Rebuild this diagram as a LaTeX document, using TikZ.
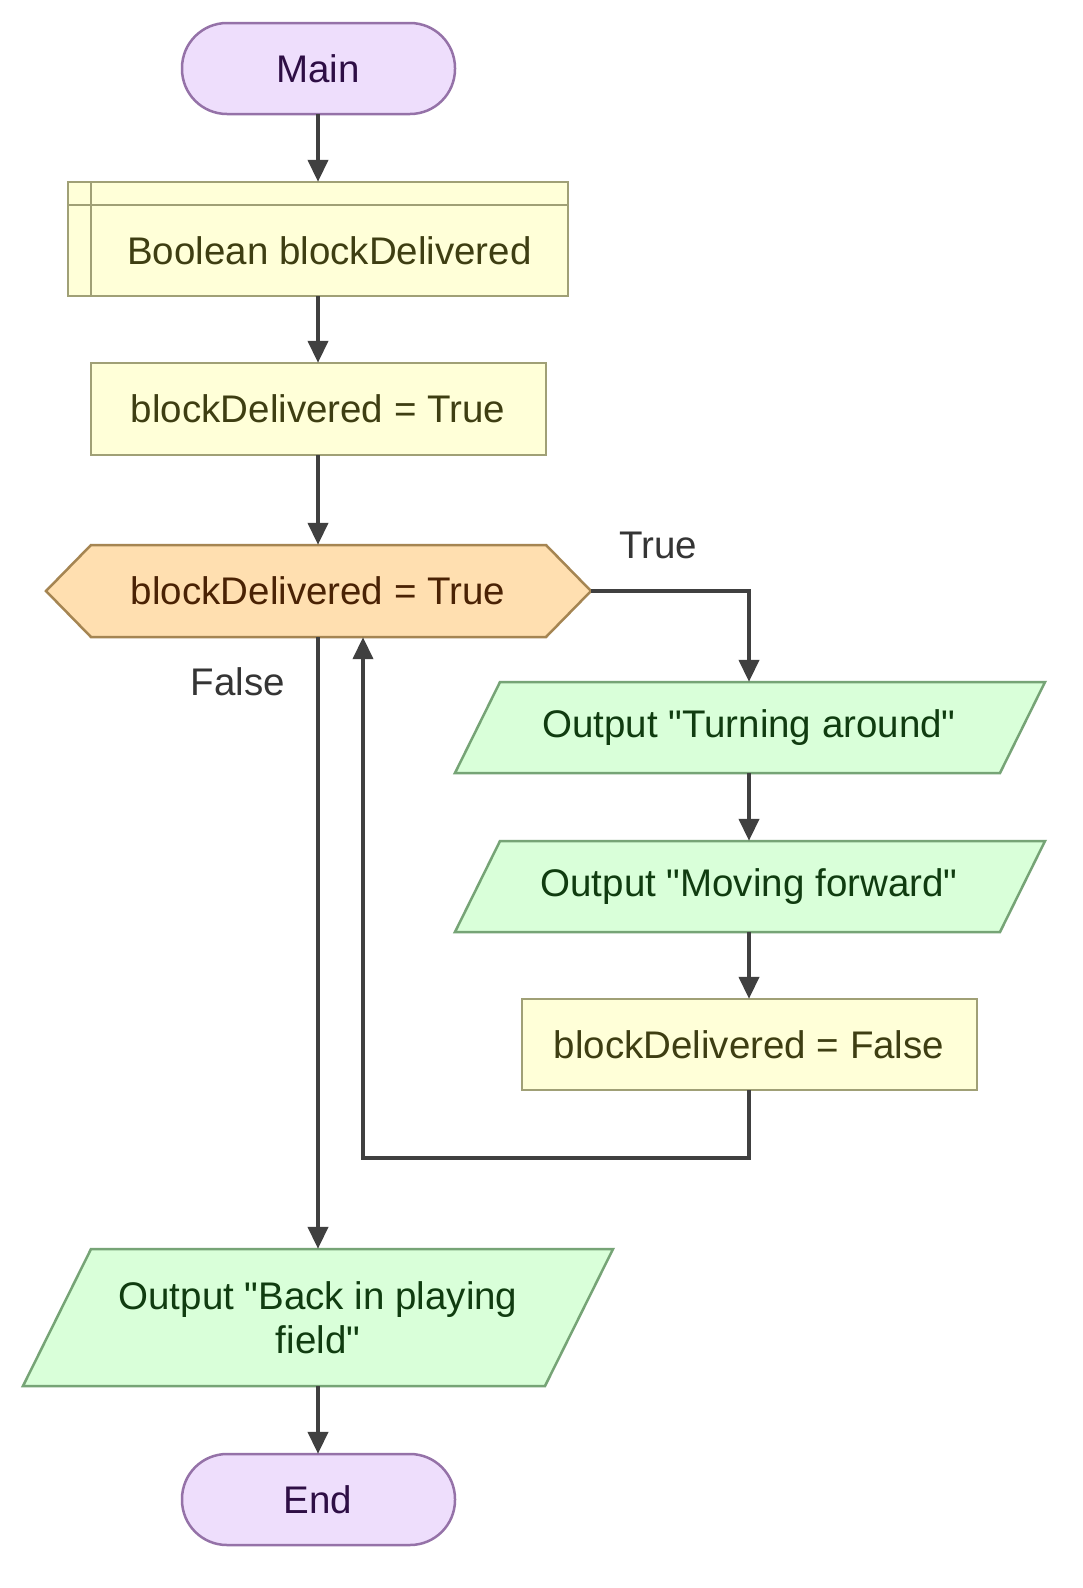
\documentclass[tikz,border=0pt]{standalone}
\usepackage{fontspec}
\setmainfont{Liberation Sans}[Ligatures=TeXOff]
\usetikzlibrary{arrows.meta}
\definecolor{termfill}{HTML}{EEDEFC}
\definecolor{termline}{HTML}{9572A8}
\definecolor{termtext}{HTML}{2E0E45}
\definecolor{procfill}{HTML}{FFFFD8}
\definecolor{procline}{HTML}{A0A076}
\definecolor{proctext}{HTML}{3E3E12}
\definecolor{decfill}{HTML}{FFDFB0}
\definecolor{decline}{HTML}{A58552}
\definecolor{dectext}{HTML}{4A2204}
\definecolor{iofill}{HTML}{D9FFD9}
\definecolor{ioline}{HTML}{76A476}
\definecolor{iotext}{HTML}{103C10}
\definecolor{arrcol}{HTML}{404040}
\definecolor{lblcol}{HTML}{353535}
\begin{document}
\begin{tikzpicture}[x=1pt,y=-1pt,
  txt/.style={font=\fontsize{38.5}{44}\selectfont, inner sep=0pt, align=center},
  termshape/.style={fill=termfill, draw=termline, line width=2.5pt},
  procshape/.style={fill=procfill, draw=procline, line width=2.5pt},
  decshape/.style={fill=decfill, draw=decline, line width=2.5pt},
  ioshape/.style={fill=iofill, draw=ioline, line width=2.5pt},
  arr/.style={draw=arrcol, line width=4pt, -{Triangle[width=20pt,length=22pt]}},
  lbl/.style={txt, text=lblcol}
]
\useasboundingbox (0,0) rectangle (1082,1588);
\fill[white] (0,0) rectangle (1082,1588);

% shapes
\draw[termshape, rounded corners=45pt] (182,23) rectangle (455,114);
\draw[procshape] (68,182) rectangle (568,296);
\draw[procline, line width=2.5pt] (91,182) -- (91,296) (68,205) -- (568,205);
\draw[procshape] (91,363) rectangle (546,455);
\draw[decshape] (46,591) -- (91,545) -- (546,545) -- (591,591) -- (546,637) -- (91,637) -- cycle;
\draw[ioshape] (500,682) -- (1045,682) -- (1000,773) -- (455,773) -- cycle;
\draw[ioshape] (500,841) -- (1045,841) -- (1000,932) -- (455,932) -- cycle;
\draw[procshape] (522,999) rectangle (977,1090);
\draw[ioshape] (91,1249) -- (613,1249) -- (545,1386) -- (23,1386) -- cycle;
\draw[termshape, rounded corners=45pt] (182,1454) rectangle (455,1545);

% nodes
\node[txt, text=termtext, minimum width=273pt, minimum height=91pt] (main) at (318,68.5) {Main};
\node[minimum width=500pt, minimum height=114pt, inner sep=0pt] (decl) at (318,239) {};
\node[txt, text=proctext] (decltxt) at (329.5,250.5) {Boolean blockDelivered};
\node[txt, text=proctext, minimum width=455pt, minimum height=92pt] (init) at (318,409) {blockDelivered = True};
\node[txt, text=dectext, minimum width=545pt, minimum height=92pt] (dec) at (318,591) {blockDelivered = True};
\node[txt, text=iotext, minimum width=545pt, minimum height=91pt] (turn) at (749,727.5) {Output "Turning around"};
\node[txt, text=iotext, minimum width=545pt, minimum height=91pt] (move) at (749,886.5) {Output "Moving forward"};
\node[txt, text=proctext, minimum width=455pt, minimum height=91pt] (setf) at (749,1044.5) {blockDelivered = False};
\node[txt, text=iotext, minimum width=522pt, minimum height=137pt] (back) at (318,1317.5) {Output "Back in playing\\field"};
\node[txt, text=termtext, minimum width=273pt, minimum height=91pt] (end) at (318,1499.5) {End};

\node[lbl] (ltrue) at (658,545) {True};
\node[lbl] (lfalse) at (238,682) {False};

% connectors
\draw[arr] (main.south) -- (main.south |- decl.north);
\draw[arr] (decl.south -| init.north) -- (init.north);
\draw[arr] (init.south) -- (dec.north);
\draw[arr] (dec.east) -| (turn.north);
\draw[arr] (turn.south) -- (move.north);
\draw[arr] (move.south) -- (setf.north);
\draw[arr] (setf.south) -- ++(0,68) -| ([xshift=45pt]dec.south);
\draw[arr] (dec.south) -- (back.north);
\draw[arr] (back.south) -- (end.north);
\end{tikzpicture}
\end{document}
